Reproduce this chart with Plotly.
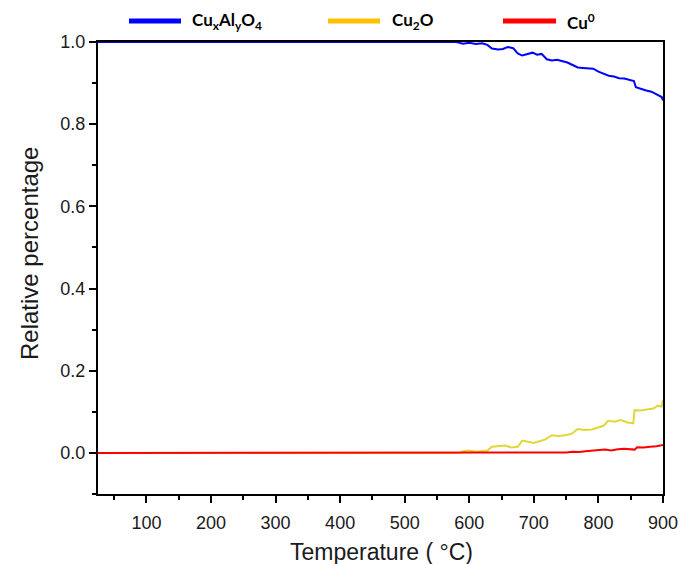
import plotly.graph_objects as go

# ---------------- data ----------------
temp_cualo = [25, 580, 585, 590, 600, 610, 620, 628, 635, 645, 652, 660, 668, 675, 682,
              690, 698, 705, 712, 720, 728, 736, 744, 752, 760, 768, 776, 784, 792, 800,
              808, 816, 824, 832, 840, 848, 855, 858, 866, 874, 882, 888, 894, 898, 900]
val_cualo = [1.0, 1.0, 0.998, 0.996, 0.998, 0.995, 0.997, 0.993, 0.984, 0.982, 0.983, 0.988,
             0.985, 0.972, 0.967, 0.970, 0.974, 0.969, 0.971, 0.958, 0.955, 0.957, 0.953,
             0.950, 0.944, 0.938, 0.937, 0.936, 0.935, 0.928, 0.922, 0.918, 0.916, 0.912,
             0.911, 0.908, 0.905, 0.890, 0.885, 0.882, 0.879, 0.874, 0.871, 0.866, 0.858]

temp_cu2o = [25, 585, 590, 600, 610, 620, 628, 635, 645, 655, 665, 675, 682, 690, 700,
             710, 718, 728, 738, 748, 758, 768, 778, 790, 800, 808, 815, 825, 835, 845,
             854, 856, 865, 875, 885, 892, 898, 900]
val_cu2o = [0.0, 0.0, 0.004, 0.006, 0.003, 0.004, 0.006, 0.015, 0.017, 0.018, 0.013, 0.015,
            0.030, 0.028, 0.024, 0.029, 0.033, 0.043, 0.041, 0.043, 0.046, 0.058, 0.056,
            0.057, 0.063, 0.066, 0.078, 0.076, 0.080, 0.074, 0.072, 0.104, 0.103, 0.105,
            0.108, 0.115, 0.113, 0.128]

temp_cu0 = [25, 740, 750, 760, 770, 780, 790, 800, 810, 820, 830, 840, 850, 856, 860,
            870, 880, 890, 900]
val_cu0 = [0.0, 0.0, 0.001, 0.003, 0.002, 0.004, 0.005, 0.006, 0.008, 0.006, 0.009, 0.010,
           0.009, 0.008, 0.014, 0.013, 0.015, 0.016, 0.019]

series_names = ["Cu<sub>x</sub>Al<sub>y</sub>O<sub>4</sub>", "Cu<sub>2</sub>O", "Cu<sup>0</sup>"]
x_ticks = [100, 200, 300, 400, 500, 600, 700, 800, 900]
y_ticks = [0.0, 0.2, 0.4, 0.6, 0.8, 1.0]
y_tick_text = ["0.0", "0.2", "0.4", "0.6", "0.8", "1.0"]

# ---------------- styling ----------------
W, H = 680, 564
ML, MR, MT, MB = 98, 17, 42, 70
line_colors = ["#0000FF", "#E0D838", "#FF0000"]
legend_colors = ["#0000FF", "#FFC000", "#FF0000"]


def px_x(px):
    return (px - ML) / (W - ML - MR)


def px_y(py):
    return (H - MB - py) / (H - MT - MB)


fig = go.Figure()
for t, v, c, n in zip([temp_cualo, temp_cu2o, temp_cu0], [val_cualo, val_cu2o, val_cu0],
                      line_colors, series_names):
    fig.add_trace(go.Scatter(x=t, y=v, mode="lines", name=n,
                             line=dict(color=c, width=2), showlegend=False))

tick_font = dict(family="Liberation Sans, Arial, sans-serif", size=18, color="#1a1a1a")
axis_common = dict(showline=True, linecolor="black", linewidth=2, mirror=True,
                   ticks="outside", ticklen=7, tickwidth=1.5, tickcolor="black",
                   showgrid=False, zeroline=False, tickfont=tick_font, automargin=False)

fig.update_xaxes(range=[25, 900], tickvals=x_ticks, ticklabelstandoff=4,
                 minor=dict(dtick=50, ticks="outside", ticklen=4, tickcolor="black",
                            tickwidth=1.5, tick0=0),
                 **axis_common)
fig.update_yaxes(range=[-0.1, 1.0], tickvals=y_ticks, ticktext=y_tick_text,
                 minor=dict(dtick=0.1, ticks="outside", ticklen=4, tickcolor="black",
                            tickwidth=1.5, tick0=0),
                 **axis_common)

# legend drawn manually (long thick line samples, as in the reference)
leg_line_px = [(129, 181), (328, 380), (503, 556)]
leg_text_px = [190, 390, 565]
leg_y = 21
shapes = []
annotations = []
for (x0, x1), tx, c, n in zip(leg_line_px, leg_text_px, legend_colors, series_names):
    shapes.append(dict(type="line", xref="paper", yref="paper",
                       x0=px_x(x0), x1=px_x(x1), y0=px_y(leg_y), y1=px_y(leg_y),
                       line=dict(color=c, width=5)))
    annotations.append(dict(text="<b>" + n + "</b>", xref="paper", yref="paper",
                            x=px_x(tx), y=px_y(leg_y), xanchor="left", yanchor="middle",
                            showarrow=False,
                            font=dict(family="Lato, Open Sans, sans-serif", size=17,
                                      color="black")))

# axis titles
annotations.append(dict(text="Temperature ( °C)", xref="paper", yref="paper",
                        x=px_x(381), y=px_y(552), xanchor="center", yanchor="middle",
                        showarrow=False,
                        font=dict(family="Liberation Sans, Arial, sans-serif", size=23,
                                  color="#1a1a1a")))
annotations.append(dict(text="Relative percentage", xref="paper", yref="paper",
                        x=px_x(30), y=px_y(254), xanchor="center", yanchor="middle",
                        textangle=-90, showarrow=False,
                        font=dict(family="Liberation Sans, Arial, sans-serif", size=24,
                                  color="#1a1a1a")))

fig.update_layout(width=W, height=H, margin=dict(l=ML, r=MR, t=MT, b=MB, autoexpand=False),
                  paper_bgcolor="white", plot_bgcolor="white",
                  shapes=shapes, annotations=annotations, showlegend=False)

fig.write_html("out.html",
               config={"displayModeBar": False},
               post_script="document.body.style.margin='0';"
                           "document.body.style.padding='0';"
                           "document.body.style.overflow='hidden';")
